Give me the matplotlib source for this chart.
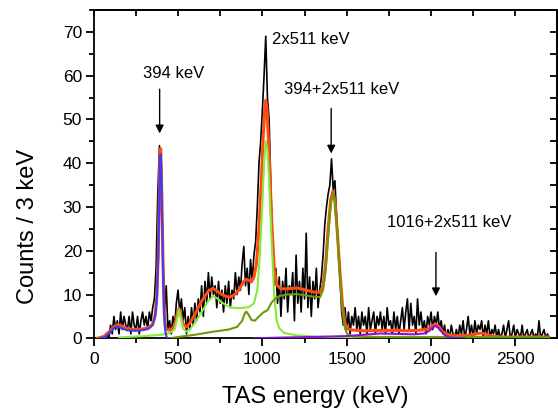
import numpy as np
import matplotlib
matplotlib.use("Agg")
import matplotlib.pyplot as plt
from matplotlib.ticker import MultipleLocator

plt.rcParams['font.family'] = ['Liberation Sans', 'DejaVu Sans']

# ---------------- data ----------------
# measured spectrum, 10 keV sampling from 60 keV
energy_start = 60
energy_step = 10
counts = [
    0, 0, 1, 0,
    3, 1, 5, 2, 4, 1, 6, 2, 5, 3,
    2, 5, 1, 6, 3, 2, 5, 1, 4, 6,
    3, 5, 2, 6, 4, 7, 9, 16, 33, 44,
    38, 20, 6, 12, 2, 4, 1, 5, 3, 8,
    11, 6, 9, 4, 7, 1, 5, 2, 7, 3,
    8, 4, 9, 6, 12, 5, 13, 8, 15, 9,
    14, 10, 12, 7, 13, 8, 11, 6, 12, 8,
    13, 7, 11, 9, 15, 10, 14, 11, 17, 21,
    12, 16, 10, 18, 13, 19, 22, 30, 40, 45,
    52, 60, 69, 55, 50, 35, 22, 12, 16, 8,
    14, 5, 13, 9, 16, 6, 12, 10, 15, 4,
    19, 8, 13, 6, 16, 9, 24, 7, 14, 5,
    13, 9, 16, 7, 11, 14, 19, 26, 30, 33,
    35, 41, 34, 36, 28, 20, 14, 6, 3, 7,
    2, 6, 1, 5, 3, 7, 2, 5, 1, 6,
    3, 5, 1, 7, 2, 4, 6, 1, 5, 3,
    6, 2, 5, 1, 7, 3, 4, 1, 6, 2,
    5, 1, 4, 7, 2, 6, 9, 2, 8, 3,
    5, 1, 9, 3, 6, 2, 4, 1, 5, 3,
    6, 2, 5, 3, 6, 2, 4, 1, 3, 0,
    2, 0, 3, 1, 0, 2, 0, 3, 1, 4,
    0, 2, 5, 1, 3, 0, 4, 1, 3, 2,
    4, 0, 3, 1, 4, 0, 2, 1, 3, 0,
    2, 0, 1, 3, 0, 2, 4, 0, 1, 3,
    0, 2, 1, 0, 3, 0, 1, 2, 0, 1,
    2, 0, 1, 0, 4, 0, 1, 2, 0, 1,
    0,
]

# total fit (orange-red)
total_x = [20, 60, 100, 120, 140, 160, 200, 250, 300, 330, 350, 365, 375, 383, 388, 393,
           397, 401, 406, 412, 418, 425, 440, 460, 480, 495, 505, 515, 530, 550, 570, 600,
           640, 680, 707, 730, 760, 790, 806, 830, 860, 890, 905, 920, 935, 950, 965, 980,
           995, 1005, 1015, 1020, 1028, 1040, 1055, 1070, 1085, 1110, 1150, 1205, 1260, 1300,
           1342, 1360, 1375, 1390, 1405, 1418, 1430, 1445, 1460, 1475, 1490, 1505, 1530, 1600,
           1700, 1800, 1860, 1920, 1970, 2000, 2025, 2045, 2070, 2100, 2125, 2170, 2230, 2270,
           2293, 2320, 2360, 2420, 2550, 2700]
total_y = [0, 0.4, 1.8, 2.6, 3.1, 2.9, 2.2, 2.0, 2.2, 2.6, 3.3, 5.5, 10, 20, 31, 42,
           43.3, 39, 28, 15, 6, 2.5, 1.9, 1.9, 3.0, 5.5, 6.8, 5.5, 3.2, 2.6, 3.5, 5.5,
           8.5, 10.8, 11.4, 10.8, 10.0, 9.5, 9.4, 9.8, 11.0, 13.0, 13.5, 13.2, 12.9, 14.0, 17, 25,
           37, 46, 53, 54.4, 52, 42, 27, 16, 12.2, 11.3, 11.3, 11.5, 11.0, 10.6,
           10.5, 12, 17, 25, 31.5, 33.6, 31.5, 24, 15, 7.5, 3.5, 2.2, 1.9, 1.7,
           1.8, 1.8, 1.7, 1.8, 2.0, 2.6, 3.3, 2.7, 1.5, 0.9, 0.6, 0.6, 0.7, 1.0,
           1.2, 1.0, 0.5, 0.3, 0.3, 0.3]

# 394 keV component (blue)
c394_x = [40, 70, 100, 120, 140, 160, 200, 250, 300, 330, 350, 365, 375, 383, 388, 393,
          397, 401, 406, 412, 418, 425, 432, 440]
c394_y = [0, 0.3, 1.5, 2.4, 2.7, 2.4, 1.8, 1.7, 1.9, 2.3, 3.0, 5, 9, 19, 30, 41,
          42, 38, 27, 14, 5, 1.5, 0.3, 0]

# 2x511 keV component (light green)
c511_x = [150, 300, 400, 450, 480, 495, 505, 515, 530, 550, 570, 600, 640, 680, 707, 730,
          760, 790, 820, 870, 920, 950, 970, 985, 1000, 1010, 1020, 1030, 1040, 1055, 1070,
          1085, 1100, 1130, 1200, 1300, 1500, 1600]
c511_y = [0.2, 0.5, 0.8, 1.2, 2.0, 4.5, 6.6, 5.0, 2.2, 1.5, 2.0, 3.5, 6.0, 8.5, 9.6, 9.2,
          8.2, 7.4, 7.0, 6.9, 7.1, 8.0, 11, 19, 31, 40, 45, 43, 36, 22, 10,
          4, 2.3, 1.2, 0.7, 0.4, 0.2, 0]

# 394+2x511 keV component (olive)
c905_x = [450, 500, 600, 707, 800, 850, 880, 895, 905, 918, 935, 955, 975, 1005, 1030, 1055,
          1080, 1105, 1150, 1205, 1260, 1300, 1342, 1360, 1375, 1390, 1405, 1418, 1430, 1445,
          1460, 1475, 1490, 1505, 1540, 1700, 2700]
c905_y = [0, 0.3, 0.8, 1.5, 2.0, 2.6, 4.0, 5.6, 6.1, 5.4, 4.2, 4.0, 4.8, 5.9, 6.4, 8.2,
          9.2, 9.7, 10.0, 10.1, 9.8, 9.5, 9.4, 11, 15.5, 23, 30.5, 33.2, 31, 23.5,
          14, 6, 2.2, 0.9, 0.4, 0.3, 0.3]

# 1016+2x511 keV component (purple)
c2038_x = [950, 1100, 1300, 1500, 1600, 1700, 1800, 1900, 1960, 1990, 2010, 2025, 2040,
           2060, 2080, 2100, 2120, 2200]
c2038_y = [0, 0.15, 0.3, 0.5, 0.8, 1.1, 1.0, 0.9, 1.1, 1.7, 2.5, 2.8, 2.5,
           1.6, 0.8, 0.3, 0.1, 0]

labels = ["394 keV", "2x511 keV", "394+2x511 keV", "1016+2x511 keV"]
label_x = [475, 1060, 1129, 1737]
label_y = [60.6, 68.3, 56.8, 26.4]
arrow_x = [391, None, 1408, 2029]
arrow_top = [56.9, None, 52.5, 19.6]
arrow_tip = [46.8, None, 42.2, 9.6]

# ---------------- plot ----------------
fig = plt.figure(figsize=(5.58, 4.09), dpi=100)
ax = fig.add_axes([0.1679, 0.1729, 0.8298, 0.8027])

energy = energy_start + energy_step * np.arange(len(counts))
ax.plot(energy, counts, color='black', lw=1.2, zorder=2)
ax.plot(total_x, total_y, color='#FF4A12', lw=2.2, zorder=3, solid_capstyle='round')
ax.plot(c511_x, c511_y, color='#86EA3C', lw=1.5, zorder=4)
ax.plot(c905_x, c905_y, color='#6E9A08', lw=1.5, zorder=4)
ax.plot(c2038_x, c2038_y, color='#8A12D8', lw=1.5, zorder=4)
ax.plot(c394_x, c394_y, color='#3D3DF5', lw=1.5, zorder=4)

ax.set_xlim(0, 2745)
ax.set_ylim(0, 75)

for t, tx, ty in zip(labels, label_x, label_y):
    ax.text(tx, ty, t, fontsize=12, ha='center' if t == "394 keV" else 'left',
            va='center', zorder=6)
for axx, at, ab in zip(arrow_x, arrow_top, arrow_tip):
    if axx is None:
        continue
    ax.annotate('', xy=(axx, ab), xytext=(axx, at),
                arrowprops=dict(arrowstyle='-|>', color='black', lw=1.0,
                                mutation_scale=12, shrinkA=0, shrinkB=0), zorder=6)

ax.xaxis.set_major_locator(MultipleLocator(500))
ax.xaxis.set_minor_locator(MultipleLocator(250))
ax.yaxis.set_major_locator(MultipleLocator(10))
ax.yaxis.set_minor_locator(MultipleLocator(5))
ax.tick_params(which='both', direction='out', top=False, right=False,
               labelsize=12.5, width=1.3)
ax.tick_params(axis='x', which='major', length=6, pad=4)
ax.tick_params(axis='x', which='minor', length=3.5)
ax.tick_params(axis='y', which='major', length=5.5, pad=3)
ax.tick_params(axis='y', which='minor', length=3.5)

secx = ax.secondary_xaxis('top')
secx.xaxis.set_major_locator(MultipleLocator(250))
secx.tick_params(direction='in', length=4.5, width=1.3, labeltop=False)
secy = ax.secondary_yaxis('right')
secy.yaxis.set_major_locator(MultipleLocator(5))
secy.tick_params(direction='in', length=5, width=1.3, labelright=False)
for s in list(ax.spines.values()) + [secx.spines['top'], secy.spines['right']]:
    s.set_linewidth(1.3)

ax.set_xlabel("TAS energy (keV)", fontsize=17)
ax.set_ylabel("Counts / 3 keV", fontsize=17)
ax.xaxis.set_label_coords(0.478, -0.145)
ax.yaxis.set_label_coords(-0.118, 0.342)

fig.savefig("out.png", dpi=100)
